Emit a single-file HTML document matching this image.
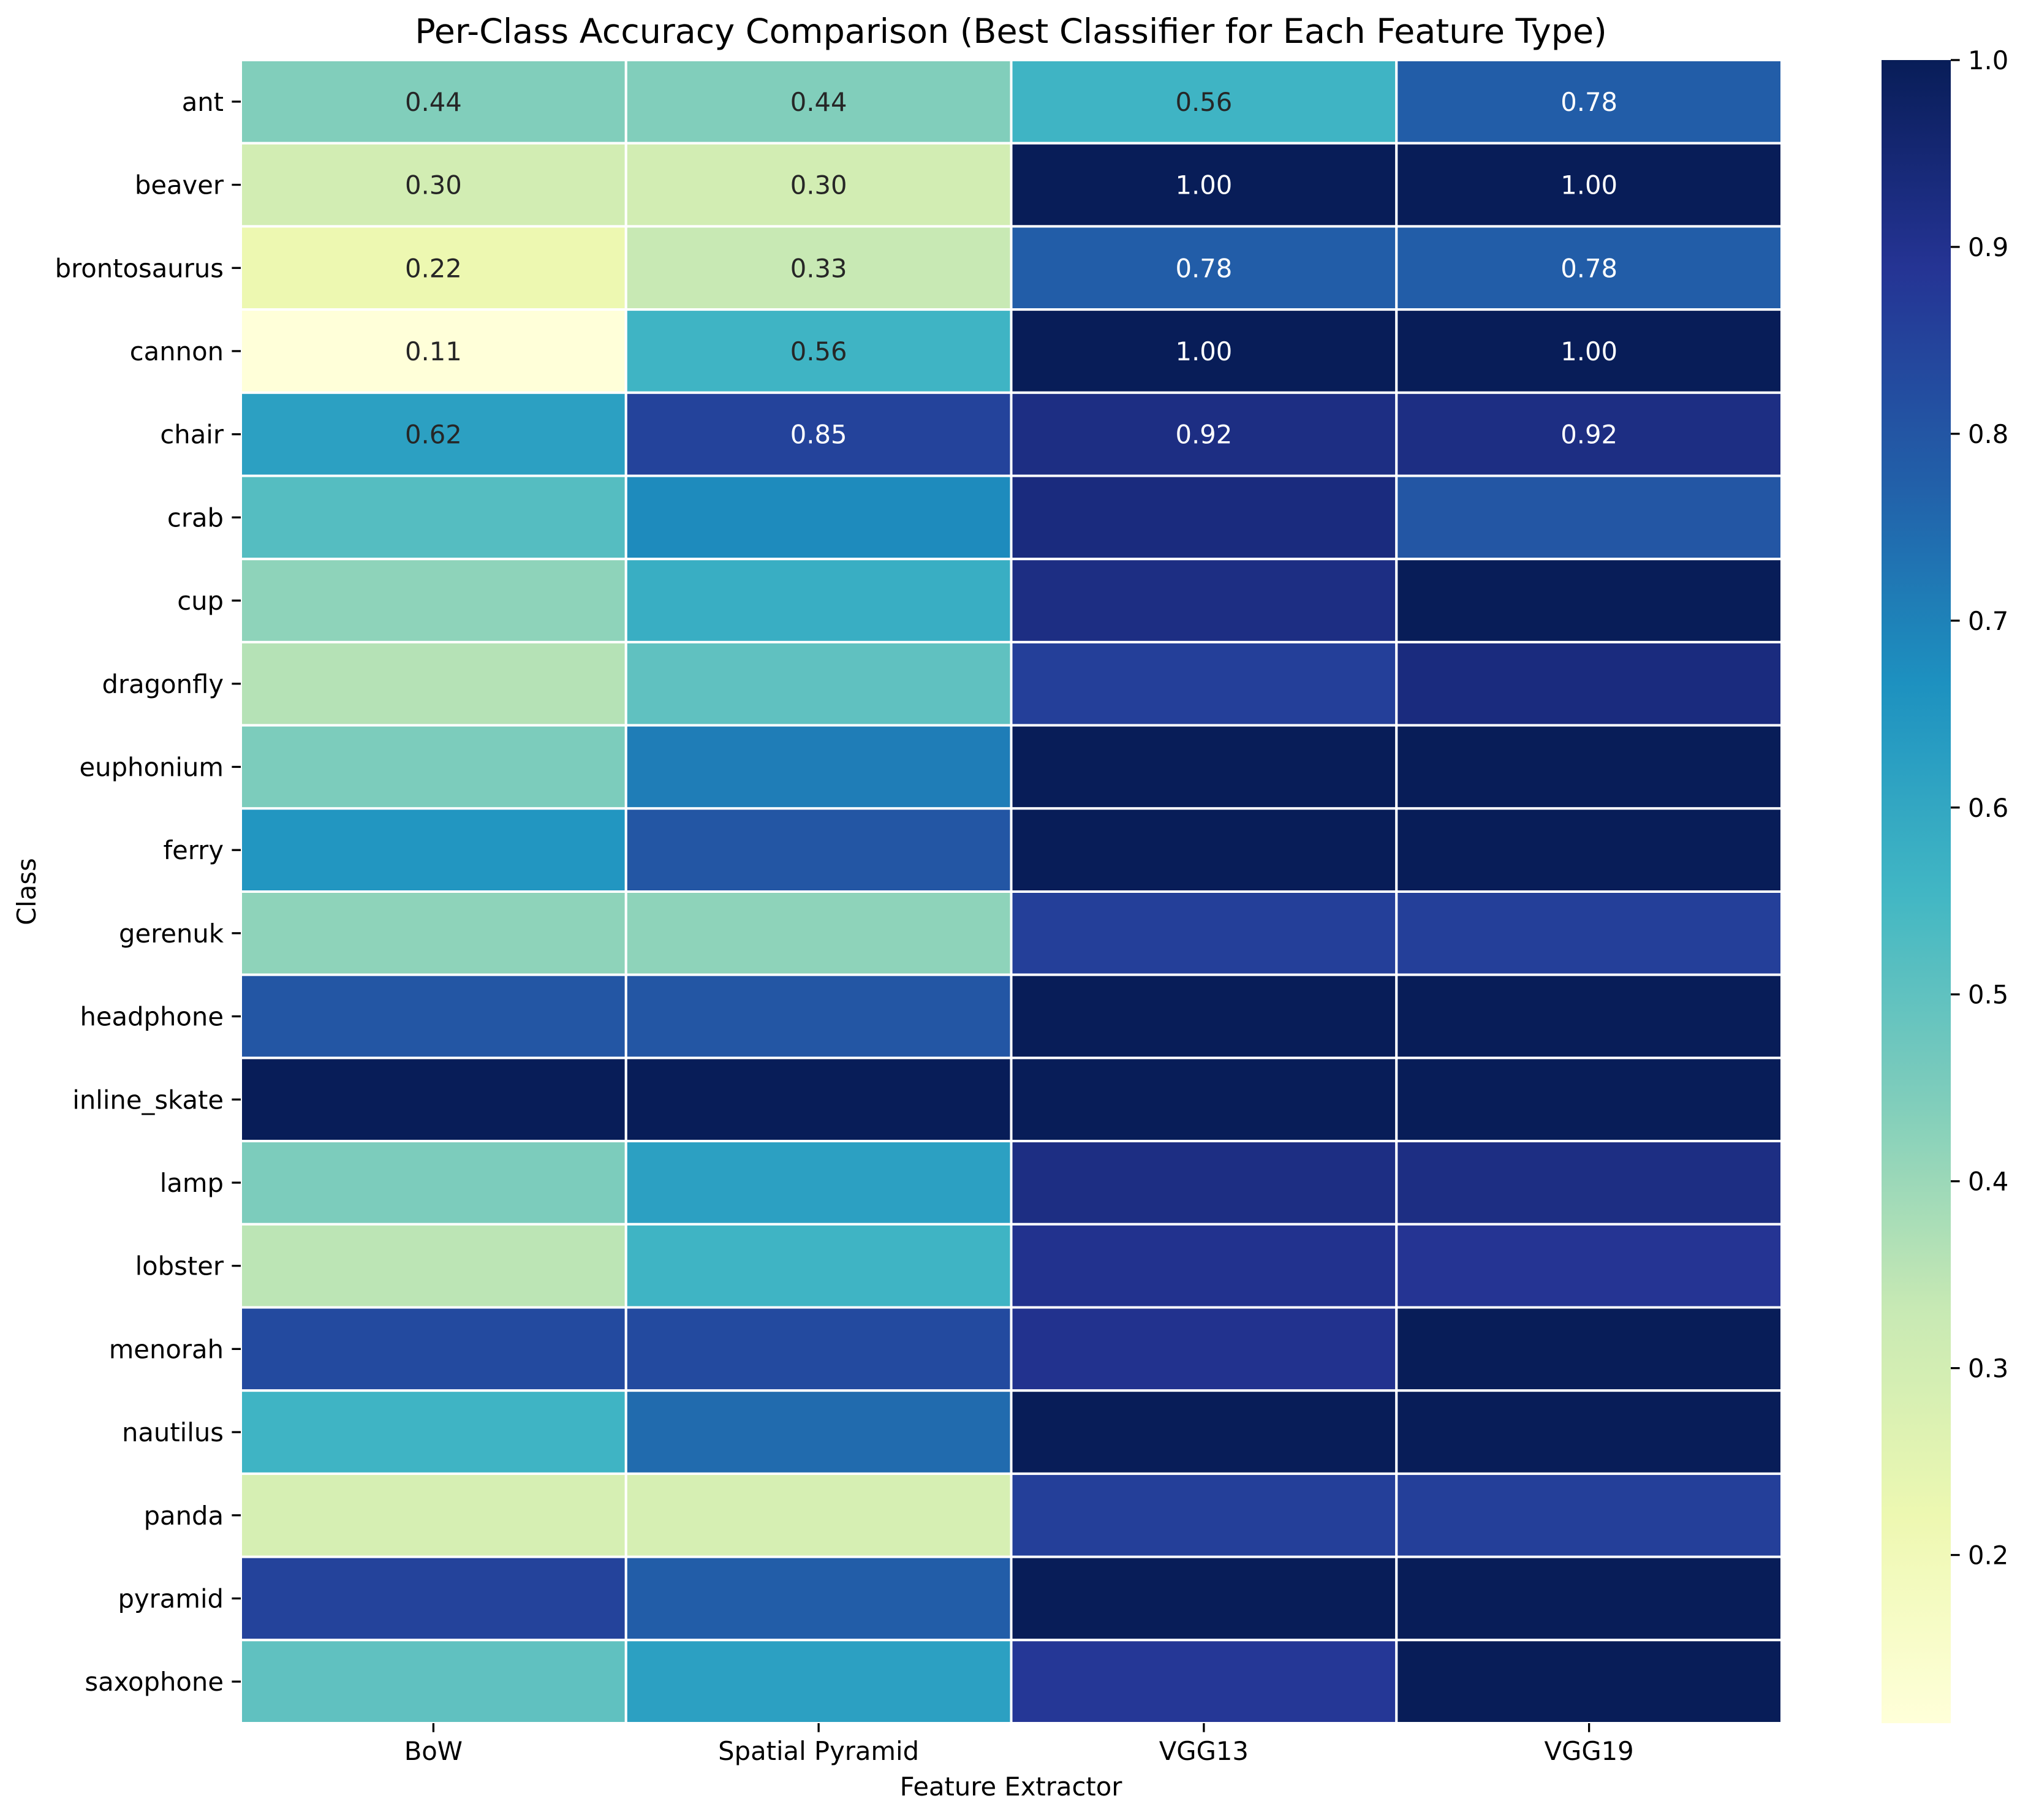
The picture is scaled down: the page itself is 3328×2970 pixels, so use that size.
<!DOCTYPE html>
<html><head><meta charset="utf-8"><style>
html,body{margin:0;padding:0;background:#fff;}
svg{display:block;font-family:"DejaVu Sans","Liberation Sans",sans-serif;}
</style></head><body>
<svg id="chart" width="3328" height="2970" viewBox="0 0 3328 2970" xmlns="http://www.w3.org/2000/svg">
<text x="1650" y="70" font-size="55.5" text-anchor="middle" fill="#000">Per-Class Accuracy Comparison (Best Classifier for Each Feature Type)</text>
<text x="1650" y="2930" font-size="41.7" text-anchor="middle" fill="#000">Feature Extractor</text>
<text x="0" y="0" font-size="41.7" text-anchor="middle" fill="#000" transform="translate(58,1455) rotate(-90)">Class</text>
<g id="cells"></g>
<g id="ylabels"></g>
<g id="xlabels"></g>
<g id="cbar"></g>
</svg>
<script>
const classes = ["ant","beaver","brontosaurus","cannon","chair","crab","cup","dragonfly","euphonium","ferry","gerenuk","headphone","inline_skate","lamp","lobster","menorah","nautilus","panda","pyramid","saxophone"];
const extractors = ["BoW","Spatial Pyramid","VGG13","VGG19"];
const bowValues = [0.44,0.30,0.22,0.11,0.62,0.52,0.42,0.36,0.45,0.65,0.42,0.80,1.00,0.45,0.35,0.83,0.56,0.29,0.85,0.50];
const spValues  = [0.44,0.30,0.33,0.56,0.85,0.68,0.58,0.50,0.71,0.80,0.42,0.80,1.00,0.62,0.56,0.83,0.75,0.29,0.78,0.62];
const vgg13Values = [0.56,1.00,0.78,1.00,0.92,0.93,0.92,0.86,1.00,1.00,0.86,1.00,1.00,0.92,0.90,0.90,1.00,0.86,1.00,0.88];
const vgg19Values = [0.78,1.00,0.78,1.00,0.92,0.80,1.00,0.93,1.00,1.00,0.86,1.00,1.00,0.92,0.89,1.00,1.00,0.86,1.00,1.00];
const annotatedRows = 5;
const cbarTicks = [0.2,0.3,0.4,0.5,0.6,0.7,0.8,0.9,1.0];
const vmin = 0.11, vmax = 1.0;

const series = [bowValues, spValues, vgg13Values, vgg19Values];
const NS = "http://www.w3.org/2000/svg";
const L = 393, R = 2908, T = 98, B = 2812;
const cw = (R - L) / extractors.length, ch = (B - T) / classes.length;
const stops = ["#ffffd9","#edf8b1","#c7e9b4","#7fcdbb","#41b6c4","#1d91c0","#225ea8","#253494","#081d58"].map(h=>[1,3,5].map(i=>parseInt(h.substr(i,2),16)));
function cmapRGB(v){let t=(v-vmin)/(vmax-vmin);t=Math.max(0,Math.min(1,t));const p=t*(stops.length-1);const i=Math.min(Math.floor(p),stops.length-2);const f=p-i;return stops[i].map((c,k)=>Math.round(c+(stops[i+1][k]-c)*f));}
function cmap(v){const c=cmapRGB(v);return `rgb(${c[0]},${c[1]},${c[2]})`;}
function xPos(j){return L + j*cw;}
function yPos(i){return T + i*ch;}
function mk(tag, attrs, parent){const e=document.createElementNS(NS,tag);for(const k in attrs)e.setAttribute(k,attrs[k]);parent.appendChild(e);return e;}

const cells = document.getElementById('cells');
series.forEach((vals,j)=>{
  vals.forEach((v,i)=>{
    const r = mk('rect',{x:xPos(j),y:yPos(i),width:cw,height:ch,fill:cmap(v),stroke:'#fff','stroke-width':4},cells);
    
    
    if(i < annotatedRows){
      const c=cmapRGB(v);const lum=(0.299*c[0]+0.587*c[1]+0.114*c[2])/255;
      const t = mk('text',{x:xPos(j)+cw/2,y:yPos(i)+ch/2+15,'font-size':41.7,'text-anchor':'middle',fill: lum<0.5?'#fff':'#262626'},cells);
      t.textContent = v.toFixed(2);
      
      
    }
  });
});
const yl = document.getElementById('ylabels');
classes.forEach((c,i)=>{
  const y = yPos(i)+ch/2;
  const tk = mk('line',{x1:L-14.6,x2:L,y1:y,y2:y,stroke:'#000','stroke-width':3.3},yl);
  
  
  const t = mk('text',{x:L-28,y:y+15,'font-size':41.7,'text-anchor':'end',fill:'#000'},yl);
  t.textContent = c;
  
  
});
const xl = document.getElementById('xlabels');
extractors.forEach((e,j)=>{
  const x = xPos(j)+cw/2;
  const tk = mk('line',{x1:x,x2:x,y1:B,y2:B+14.6,stroke:'#000','stroke-width':3.3},xl);
  
  
  const t = mk('text',{x:x,y:B+60,'font-size':41.7,'text-anchor':'middle',fill:'#000'},xl);
  t.textContent = e;
  
  
});
const cb = document.getElementById('cbar');
const CL = 3071, CR = 3184;
const defs = mk('defs',{},cb);
const grad = mk('linearGradient',{id:'cbg',x1:0,y1:1,x2:0,y2:0},defs);
for(let k=0;k<=40;k++){const v=vmin+(vmax-vmin)*k/40;mk('stop',{offset:(k/40),'stop-color':cmap(v)},grad);}
const cbr = mk('rect',{x:CL,y:T,width:CR-CL,height:B-T,fill:'url(#cbg)'},cb);


function cbY(v){return B - (v-vmin)/(vmax-vmin)*(B-T);}
cbarTicks.forEach(v=>{
  const y = cbY(v);
  const tk = mk('line',{x1:CR,x2:CR+14.6,y1:y,y2:y,stroke:'#000','stroke-width':3.3},cb);
  
  
  const t = mk('text',{x:CR+28,y:y+15,'font-size':41.7,fill:'#000'},cb);
  t.textContent = v.toFixed(1);
  
  
});
</script>
</body></html>
